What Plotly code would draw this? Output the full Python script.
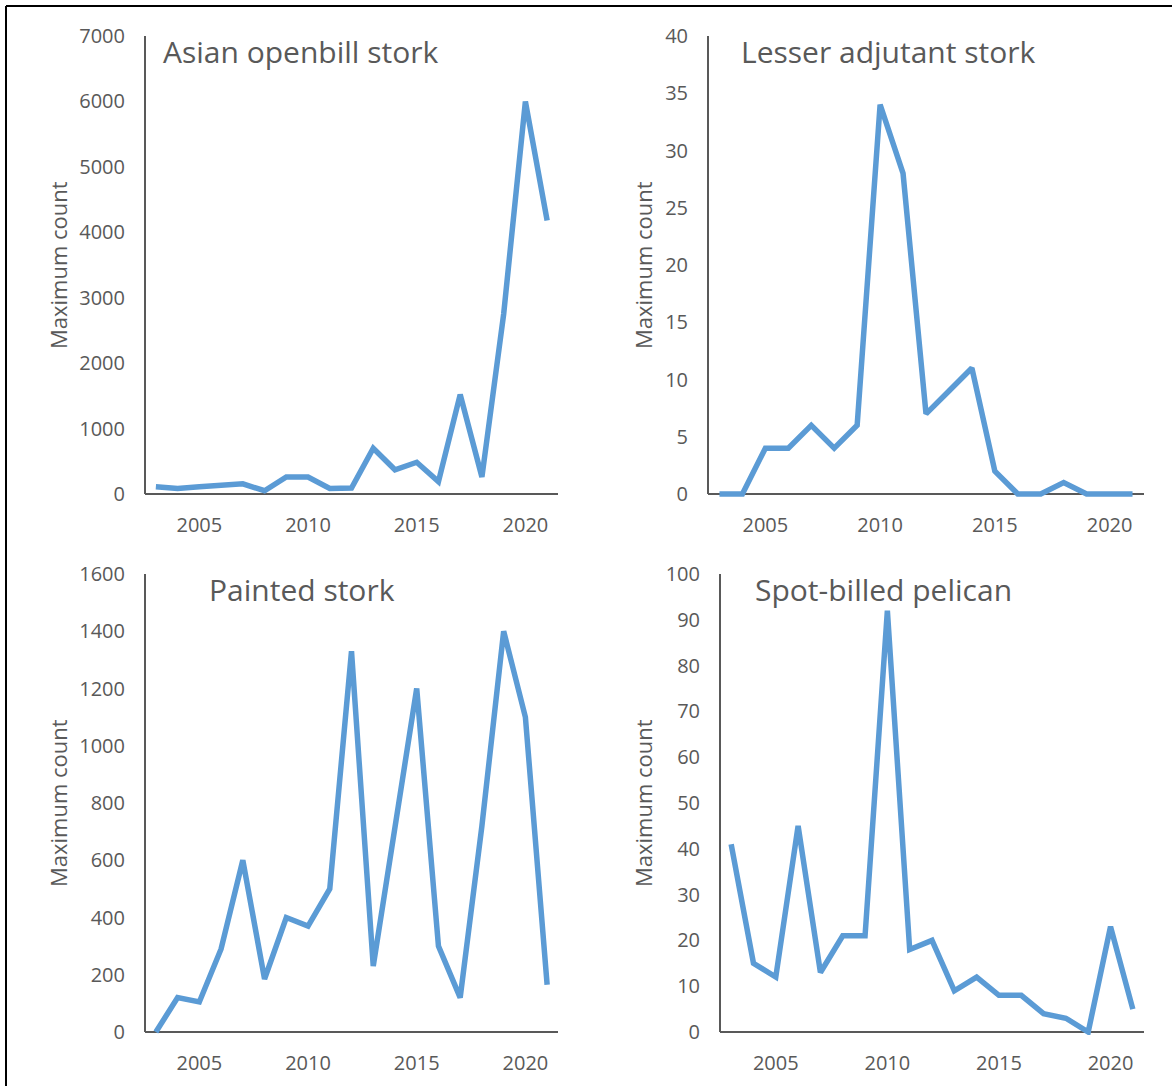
import plotly.graph_objects as go

# ---- data -------------------------------------------------------------
years = list(range(2003, 2022))

asian_openbill = [110, 85, 110, 130, 155, 50, 260, 260, 85, 90, 700, 370,
                  485, 190, 1520, 260, 2750, 6000, 4180]
lesser_adjutant = [0, 0, 4, 4, 6, 4, 6, 34, 28, 7, 9, 11, 2, 0, 0, 1, 0, 0, 0]
painted_stork = [0, 120, 105, 290, 600, 185, 400, 370, 500, 1330, 230, 700,
                 1200, 300, 120, 720, 1400, 1100, 165]
spot_billed = [41, 15, 12, 45, 13, 21, 21, 92, 18, 20, 9, 12, 8, 8, 4, 3, 0,
               23, 5]

panel_titles = ["Asian openbill stork", "Lesser adjutant stork",
                "Painted stork", "Spot-billed pelican"]
y_max = [7000, 40, 1600, 100]
y_step = [1000, 5, 200, 10]
x_ticks = [2005, 2010, 2015, 2020]
y_label = "Maximum count"

series = [asian_openbill, lesser_adjutant, painted_stork, spot_billed]

# ---- layout geometry (pixels) -----------------------------------------
W, H = 1172, 1086
FONT = "Open Sans"
TEXT = "#595959"
LINE = "#5B9BD5"
PAD = 3  # room below the zero line so the thick line is not clipped

# left, right, top, zero-line y for each panel
boxes = [(145, 558, 36, 494), (708, 1144, 36, 494),
         (145, 558, 574, 1032), (720, 1144, 574, 1032)]
title_pos = [(161, 51), (739, 51), (207, 589), (753, 589)]
ytitle_pos = [(58, 265), (643, 265), (58, 803), (643, 803)]


def px(x):
    return x / W


def py(y):
    return 1 - y / H


fig = go.Figure()
layout = dict(
    width=W, height=H,
    margin=dict(l=0, r=0, t=0, b=0, autoexpand=False),
    paper_bgcolor="white", plot_bgcolor="white",
    showlegend=False,
    font=dict(family=FONT, color=TEXT),
    annotations=[], shapes=[],
)

for i, (vals, name) in enumerate(zip(series, panel_titles)):
    n = "" if i == 0 else str(i + 1)
    left, right, top, zero = boxes[i]
    span = zero - top
    ymin = -y_max[i] * PAD / span

    fig.add_trace(go.Scatter(
        x=years, y=vals, mode="lines", name=name,
        line=dict(color=LINE, width=5.5, shape="linear"),
        xaxis="x" + n, yaxis="y" + n, hoverinfo="x+y",
    ))

    layout["xaxis" + n] = dict(
        domain=[px(left), px(right)], anchor="y" + n, automargin=False,
        range=[2002.5, 2021.5], tickvals=x_ticks,
        showgrid=False, zeroline=False, showline=False,
        ticks="", ticklabelstandoff=14,
        tickfont=dict(size=20, family=FONT, color=TEXT),
    )
    layout["yaxis" + n] = dict(
        domain=[py(zero + PAD), py(top)], anchor="x" + n, automargin=False,
        range=[ymin, y_max[i]], dtick=y_step[i], tick0=0,
        showgrid=False, showline=False,
        zeroline=True, zerolinecolor=TEXT, zerolinewidth=2,
        ticks="", ticklabelstandoff=19,
        tickfont=dict(size=20, family=FONT, color=TEXT),
    )

    # vertical axis line from zero up to the top of the scale
    layout["shapes"].append(dict(
        type="line", xref="x" + n + " domain", yref="y" + n,
        x0=0, x1=0, y0=0, y1=y_max[i],
        line=dict(color=TEXT, width=2), layer="below",
    ))

    tx, ty = title_pos[i]
    layout["annotations"].append(dict(
        text=name, xref="paper", yref="paper",
        x=px(tx), y=py(ty), xanchor="left", yanchor="middle",
        showarrow=False, font=dict(size=30, family=FONT, color=TEXT),
    ))

    ax, ay = ytitle_pos[i]
    layout["annotations"].append(dict(
        text=y_label, xref="paper", yref="paper",
        x=px(ax), y=py(ay), xanchor="center", yanchor="middle",
        textangle=-90, showarrow=False,
        font=dict(size=22, family=FONT, color=TEXT),
    ))

# frame lines along the top and left edges
layout["shapes"].append(dict(type="line", xref="paper", yref="paper",
                             x0=px(6), x1=1, y0=py(6), y1=py(6),
                             line=dict(color="black", width=2)))
layout["shapes"].append(dict(type="line", xref="paper", yref="paper",
                             x0=px(6), x1=px(6), y0=py(6), y1=0,
                             line=dict(color="black", width=2)))

fig.update_layout(**layout)
fig.write_html("out.html")
